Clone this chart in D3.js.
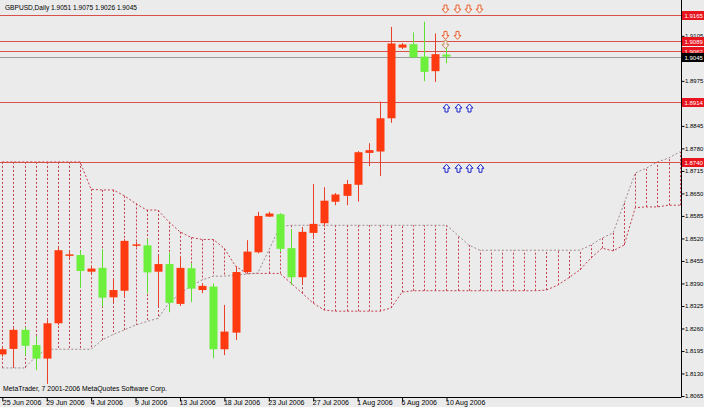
<!DOCTYPE html>
<html><head><meta charset="utf-8">
<script src="https://cdn.jsdelivr.net/npm/d3@7"></script>
<style>
body{margin:0;background:#ebebeb}
svg{display:block}
text{font-family:"Liberation Sans",Arial,sans-serif}
</style>
</head><body><svg id="c" width="704" height="407"></svg>
<script>
// ---- data ----
const dates = ["25 Jun 2006","26 Jun 2006","27 Jun 2006","28 Jun 2006","29 Jun 2006","30 Jun 2006",
"2 Jul 2006","3 Jul 2006","4 Jul 2006","5 Jul 2006","6 Jul 2006","7 Jul 2006",
"9 Jul 2006","10 Jul 2006","11 Jul 2006","12 Jul 2006","13 Jul 2006","14 Jul 2006",
"16 Jul 2006","17 Jul 2006","18 Jul 2006","19 Jul 2006","20 Jul 2006","21 Jul 2006",
"23 Jul 2006","24 Jul 2006","25 Jul 2006","26 Jul 2006","27 Jul 2006","28 Jul 2006",
"30 Jul 2006","31 Jul 2006","1 Aug 2006","2 Aug 2006","3 Aug 2006","4 Aug 2006",
"6 Aug 2006","7 Aug 2006","8 Aug 2006","9 Aug 2006","10 Aug 2006"];
const open  = [1.8185,1.8201,1.8256,1.8212,1.8173,1.8275,1.8472,1.8472,1.8424,1.8435,1.8350,1.8369,1.8502,1.8500,1.8424,1.8446,1.8331,1.8434,1.8371,1.8381,1.8200,1.8248,1.8423,1.8480,1.8583,1.8590,1.8492,1.8408,1.8536,1.8564,1.8626,1.8643,1.8675,1.8767,1.8771,1.8867,1.9071,1.9081,1.9045,1.9003,1.9051];
const high  = [1.8206,1.8261,1.8264,1.8238,1.8284,1.8495,1.8482,1.8486,1.8440,1.8489,1.8405,1.8518,1.8510,1.8519,1.8469,1.8479,1.8469,1.8448,1.8391,1.8390,1.8328,1.8438,1.8515,1.8597,1.8597,1.8593,1.8546,1.8552,1.8677,1.8668,1.8651,1.8689,1.8772,1.8795,1.8915,1.9131,1.9084,1.9115,1.9146,1.9112,1.9075];
const low   = [1.8178,1.8149,1.8183,1.8140,1.8100,1.8270,1.8463,1.8377,1.8417,1.8323,1.8336,1.8351,1.8495,1.8361,1.8323,1.8307,1.8325,1.8336,1.8362,1.8174,1.8183,1.8227,1.8419,1.8477,1.8582,1.8481,1.8385,1.8388,1.8524,1.8554,1.8616,1.8616,1.8626,1.8729,1.8700,1.8854,1.9067,1.9041,1.8974,1.8972,1.9026];
const close = [1.8200,1.8256,1.8210,1.8173,1.8275,1.8486,1.8474,1.8426,1.8433,1.8349,1.8371,1.8513,1.8503,1.8422,1.8446,1.8334,1.8435,1.8375,1.8383,1.8200,1.8251,1.8423,1.8482,1.8585,1.8592,1.8490,1.8408,1.8539,1.8562,1.8629,1.8647,1.8677,1.8769,1.8775,1.8867,1.9083,1.9080,1.9043,1.9001,1.9052,1.9045];
// Ichimoku cloud (shifted 26 bars ahead), one value per bar slot 0..61
const spanA = [1.8741,1.8741,1.8741,1.8741,1.8741,1.8741,1.8741,1.8741,1.8662,1.8660,1.8660,1.8643,1.8621,1.8602,1.8602,1.8568,1.8539,1.8523,1.8517,1.8517,1.8491,1.8440,1.8419,1.8419,1.8419,1.8419,1.8391,1.8362,1.8333,1.8313,1.8310,1.8310,1.8310,1.8310,1.8310,1.8319,1.8365,1.8369,1.8369,1.8369,1.8369,1.8369,1.8369,1.8369,1.8369,1.8369,1.8369,1.8369,1.8369,1.8371,1.8385,1.8406,1.8429,1.8463,1.8492,1.8484,1.8501,1.8609,1.8611,1.8611,1.8616,1.8616];
const spanB = [1.8146,1.8146,1.8146,1.8178,1.8200,1.8200,1.8200,1.8200,1.8200,1.8227,1.8243,1.8256,1.8270,1.8280,1.8289,1.8333,1.8361,1.8383,1.8400,1.8411,1.8411,1.8414,1.8417,1.8420,1.8486,1.8554,1.8558,1.8558,1.8558,1.8558,1.8558,1.8558,1.8558,1.8558,1.8558,1.8558,1.8558,1.8558,1.8558,1.8558,1.8558,1.8530,1.8501,1.8486,1.8486,1.8486,1.8486,1.8486,1.8486,1.8486,1.8486,1.8486,1.8486,1.8501,1.8521,1.8536,1.8622,1.8709,1.8723,1.8741,1.8752,1.8770];
const yTicks = [1.8065,1.8130,1.8195,1.8260,1.8325,1.8390,1.8455,1.8520,1.8585,1.8650,1.8715,1.8780,1.8845,1.8975,1.9105];
const levels = [1.9165,1.9089,1.9062,1.8914,1.8740];
const bid = 1.9045;
const downArrowLevels = [1.9165,1.9089,1.9062];
const downArrowCounts = [4,2,1];
const upArrowLevels = [1.8914,1.8740];
const upArrowCounts = [3,4];
const header = "GBPUSD,Daily 1.9051 1.9075 1.9026 1.9045";
const copyright = "MetaTrader, 7 2001-2006 MetaQuotes Software Corp.";

// ---- layout ----
const svg = d3.select("#c");
const W = 704, H = 407, plotR = 681, plotB = 397;
const x = d3.scaleLinear().domain([0, 61]).range([2.3, 679.7]);
const y = d3.scaleLinear().domain([1.8065, 1.9197]).range([396, 4]);
const px = v => Math.round(v) + 0.5;
const FONT = "Liberation Sans, Arial, sans-serif";

svg.append("rect").attr("width", W).attr("height", H).attr("fill", "#ebebeb");
svg.append("clipPath").attr("id","clip").append("rect").attr("x",0).attr("y",0).attr("width",plotR).attr("height",plotB);
const plot = svg.append("g").attr("clip-path","url(#clip)");

// cloud hatch
const cloudIdx = d3.range(spanA.length);
plot.selectAll("line.hatch").data(cloudIdx).join("line")
  .attr("x1", i => px(x(i))).attr("x2", i => px(x(i)))
  .attr("y1", i => y(spanA[i])).attr("y2", i => y(spanB[i]))
  .attr("stroke", "#c4404f").attr("stroke-width", 1).attr("stroke-dasharray", "2,2");
plot.append("path").datum(cloudIdx)
  .attr("d", d3.line().x(i => x(i)).y(i => y(spanA[i])))
  .attr("fill","none").attr("stroke","#c4404f").attr("stroke-dasharray","2,2");
plot.append("path").datum(cloudIdx)
  .attr("d", d3.line().x(i => x(i)).y(i => y(spanB[i])))
  .attr("fill","none").attr("stroke","#a08890").attr("stroke-dasharray","2,2");

// level lines
plot.selectAll("line.lvl").data(levels).join("line")
  .attr("x1",0).attr("x2",plotR).attr("y1",d=>px(y(d))).attr("y2",d=>px(y(d)))
  .attr("stroke","#d8504a").attr("stroke-width",1);
plot.append("line").attr("x1",0).attr("x2",plotR).attr("y1",px(y(bid))).attr("y2",px(y(bid)))
  .attr("stroke","#9a9a9a");

// candles
const idx = d3.range(open.length);
const up = i => close[i] >= open[i];
const cRed = "#ff3a10", cGreen = "#6cf03c";
plot.selectAll("line.wick").data(idx).join("line")
  .attr("x1", i => px(x(i))).attr("x2", i => px(x(i)))
  .attr("y1", i => y(high[i])).attr("y2", i => y(low[i]))
  .attr("stroke", i => up(i) ? "#e8402a" : "#5ee030");
const bw = 8;
plot.selectAll("rect.body").data(idx).join("rect")
  .attr("x", i => Math.round(x(i)) - bw/2 + 0.5)
  .attr("width", bw)
  .attr("y", i => Math.min(y(open[i]), y(close[i])))
  .attr("height", i => Math.max(1.5, Math.abs(y(open[i]) - y(close[i]))))
  .attr("fill", i => up(i) ? cRed : cGreen);

// arrows
function arrowPath(cx, top, dir) {
  const w = 3.5, s = 1.5, h = 8, sh = 4;
  if (dir === "down") {
    return `M${cx-s},${top} H${cx+s} V${top+sh} H${cx+w} L${cx},${top+h} L${cx-w},${top+sh} H${cx-s} Z`;
  } else {
    return `M${cx},${top} L${cx+w},${top+h-sh} H${cx+s} V${top+h} H${cx-s} V${top+h-sh} H${cx-w} Z`;
  }
}
const downCols = ["#e8602c","#e8602c","#c89060"];
downArrowLevels.forEach((lv, k) => {
  d3.range(downArrowCounts[k]).forEach(j => {
    svg.append("path").attr("d", arrowPath(Math.round(x(40 + j)) - 1 + 0.5, y(lv) - 10, "down"))
      .attr("fill","#f4f0ee").attr("stroke", downCols[k]).attr("stroke-width",1);
  });
});
upArrowLevels.forEach((lv, k) => {
  d3.range(upArrowCounts[k]).forEach(j => {
    svg.append("path").attr("d", arrowPath(Math.round(x(40 + j)) + 0.5, y(lv) + 2, "up"))
      .attr("fill","#eef0f8").attr("stroke","#1a22c8").attr("stroke-width",1);
  });
});

// axes
const yAxis = d3.axisRight(y).tickValues(yTicks).tickSize(3).tickFormat(d3.format(".4f"));
const gy = svg.append("g").attr("transform", `translate(${plotR + 0.5},0)`).call(yAxis);
gy.select(".domain").attr("d", `M0,0V${plotB}`).attr("stroke","#000");
gy.selectAll(".tick line").attr("stroke","#000");
gy.selectAll(".tick text").attr("x",3.5).attr("font-size","6px").attr("fill","#000")
  .attr("font-family",FONT);

const xAxis = d3.axisBottom(x).tickValues(d3.range(0, open.length, 4)).tickSize(4).tickFormat(i => dates[i]);
const gx = svg.append("g").attr("transform", `translate(0,${plotB + 0.5})`).call(xAxis);
gx.select(".domain").attr("d", `M0,0H${plotR + 0.5}`).attr("stroke","#000");
gx.selectAll(".tick line").attr("stroke","#000");
gx.selectAll(".tick text").attr("text-anchor","start").attr("x",-1).attr("y",7.5).attr("dy",null)
  .attr("font-size","7px").attr("fill","#000").attr("font-family",FONT);
gx.selectAll(".tick").filter(i => i === 0).select("text").attr("x", 0);

// level price labels
const lbl = svg.append("g");
levels.concat([bid]).forEach(v => {
  const yy = Math.round(y(v));
  lbl.append("rect").attr("x", plotR + 1).attr("y", yy - 4).attr("width", W - plotR - 1).attr("height", 9)
    .attr("fill", v === bid ? "#000" : "#e8141e");
  lbl.append("text").attr("x", plotR + 3.5).attr("y", yy + 2.5).attr("font-size","6px").attr("fill","#fff")
    .text(d3.format(".4f")(v));
});

// texts
svg.append("text").attr("x",5).attr("y",10).attr("font-size","7.8px").attr("fill","#000")
  .attr("textLength",132).attr("lengthAdjust","spacingAndGlyphs").text(header);
svg.append("text").attr("x",3).attr("y",391).attr("font-size","7.5px").attr("fill","#000")
  .attr("textLength",164).attr("lengthAdjust","spacingAndGlyphs").text(copyright);
</script>
</body></html>
